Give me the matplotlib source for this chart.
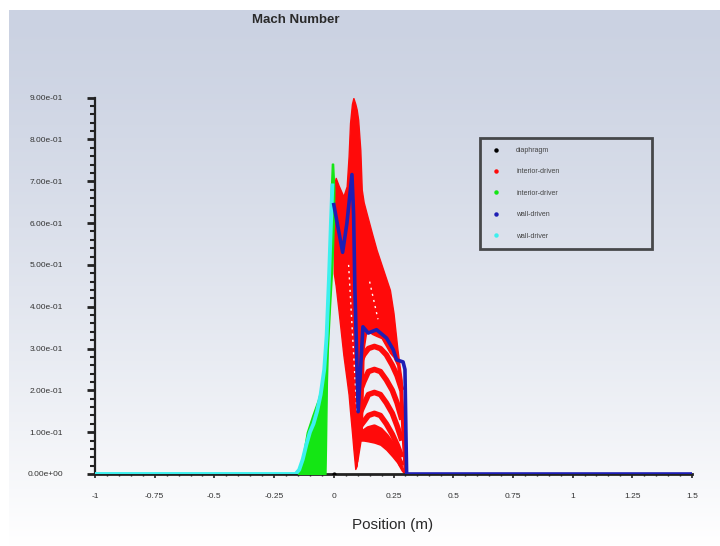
import numpy as np
import matplotlib
matplotlib.use("Agg")
import matplotlib.pyplot as plt
from matplotlib import font_manager
from matplotlib.lines import Line2D

# narrowest font we have, the Fluent plot uses a condensed face
names = {f.name for f in font_manager.fontManager.ttflist}
narrow = "Liberation Sans Narrow" if "Liberation Sans Narrow" in names else "Liberation Sans"
plt.rcParams["font.family"] = [narrow, "DejaVu Sans"]

# ---- data ----
x_ticks = [-1, -0.75, -0.5, -0.25, 0, 0.25, 0.5, 0.75, 1, 1.25, 1.5]
x_tick_labels = ["-1", "-0.75", "-0.5", "-0.25", "0", "0.25", "0.5", "0.75", "1", "1.25", "1.5"]
y_ticks = [0.0, 0.1, 0.2, 0.3, 0.4, 0.5, 0.6, 0.7, 0.8, 0.9]
y_tick_labels = ["0.00e+00", "1.00e-01", "2.00e-01", "3.00e-01", "4.00e-01",
                 "5.00e-01", "6.00e-01", "7.00e-01", "8.00e-01", "9.00e-01"]

series_names = ["diaphragm", "interior-driven", "interior-driver", "wall-driven", "wall-driver"]

# diaphragm
diaphragm_x = [0.0]
diaphragm_y = [0.0]

# wall-driver (cyan)
cyan_x = [-1.0, -0.16, -0.145, -0.13, -0.115, -0.10, -0.085, -0.07, -0.055, -0.04, -0.03, -0.02, -0.012, -0.006]
cyan_y = [0.0, 0.0, 0.01, 0.035, 0.07, 0.10, 0.12, 0.15, 0.19, 0.25, 0.33, 0.47, 0.60, 0.69]

# interior-driver (green band), left / right edge at each height
green_y = [0.0, 0.03, 0.06, 0.10, 0.14, 0.18, 0.22, 0.30, 0.40, 0.50, 0.60, 0.68, 0.742]
green_left = [-0.15, -0.135, -0.125, -0.113, -0.09, -0.065, -0.048, -0.036, -0.029, -0.022, -0.016, -0.012, -0.008]
green_right = [-0.035, -0.034, -0.033, -0.032, -0.031, -0.030, -0.029, -0.025, -0.016, -0.006, 0.0, 0.002, -0.003]

# interior-driven (red) main mass
red_x = [0.0, 0.008, 0.02, 0.04, 0.054, 0.062, 0.068, 0.076, 0.082, 0.09, 0.096, 0.102,
         0.111, 0.117, 0.125, 0.137, 0.16, 0.179, 0.2, 0.235, 0.25, 0.266, 0.275, 0.284, 0.292, 0.298, 0.304]
red_hi = [0.69, 0.708, 0.69, 0.664, 0.688, 0.76, 0.839, 0.885, 0.899, 0.885, 0.871, 0.847,
          0.775, 0.68, 0.65, 0.624, 0.575, 0.536, 0.50, 0.44, 0.385, 0.30, 0.26, 0.225, 0.12, 0.05, 0.0]
red_lo = [0.48, 0.45, 0.39, 0.285, 0.225, 0.19, 0.15, 0.10, 0.06, 0.012, 0.02, 0.09,
          0.10, 0.10, 0.30, 0.345, 0.335, 0.33, 0.325, 0.29, 0.28, 0.26, 0.20, 0.10, 0.02, 0.0, 0.0]

# red bottom band under the lowest hump
bot_x = [0.098, 0.112, 0.125, 0.145, 0.17, 0.195, 0.22, 0.245, 0.265, 0.285, 0.298]
bot_lo = [0.03, 0.08, 0.08, 0.078, 0.075, 0.07, 0.058, 0.042, 0.028, 0.008, 0.0]
bot_hi = [0.10, 0.10, 0.10, 0.108, 0.112, 0.105, 0.09, 0.07, 0.045, 0.02, 0.0]

# red hump profiles inside the shock region
hump_x = [0.105, 0.125, 0.145, 0.17, 0.195, 0.22, 0.245, 0.265, 0.285]
hump_a = [0.26, 0.285, 0.30, 0.305, 0.30, 0.285, 0.26, 0.235, 0.20]
hump_b = [0.19, 0.22, 0.245, 0.25, 0.245, 0.225, 0.20, 0.17, 0.13]
hump_c = [0.14, 0.165, 0.19, 0.195, 0.19, 0.17, 0.145, 0.115, 0.08]
hump_d = [0.11, 0.125, 0.14, 0.145, 0.14, 0.12, 0.095, 0.07, 0.04]
hump_e = [0.10, 0.10, 0.108, 0.112, 0.105, 0.09, 0.07, 0.045, 0.02]

# light gaps in the red mass
gap1_x = [0.062, 0.097]
gap1_y = [0.50, 0.145]
gap2_x = [0.15, 0.185]
gap2_y = [0.46, 0.37]

# wall-driven (blue)
blue_x = [0.0, 0.037, 0.055, 0.076, 0.083, 0.088, 0.096, 0.102, 0.122, 0.144, 0.179,
          0.221, 0.249, 0.263, 0.29, 0.298, 0.302, 0.305, 1.5]
blue_y = [0.644, 0.53, 0.60, 0.716, 0.62, 0.45, 0.28, 0.149, 0.352, 0.337, 0.345,
          0.325, 0.297, 0.273, 0.268, 0.25, 0.10, 0.0, 0.0]

c_red = "#ff0a0a"
c_green = "#14e614"
c_cyan = "#3cf0ee"
c_blue = "#1e1eb4"
c_dark = "#222222"

W, H = 720, 546
fig = plt.figure(figsize=(W / 100, H / 100), dpi=100)
fig.patch.set_facecolor("white")

# gradient background panel
bg = fig.add_axes([9 / W, 0, 1 - 9 / W, 1 - 10 / H])
top = np.array([203, 210, 226]) / 255.0
t = np.linspace(0, 1, 256)[:, None] ** 1.3
grad = top[None, :] * (1 - t) + np.array([1.0, 1.0, 1.0])[None, :] * t
bg.imshow(grad[:, None, :], aspect="auto", extent=[0, 1, 0, 1])
bg.axis("off")

ax = fig.add_axes([95 / W, 1 - 474 / H, (692 - 95) / W, (474 - 97.6) / H])
ax.set_facecolor("none")
ax.set_xlim(-1, 1.5)
ax.set_ylim(0, 0.9)

# red mass
ax.fill_between(red_x, red_lo, red_hi, color=c_red, lw=1.0, zorder=2)
ax.fill_between(bot_x, bot_lo, bot_hi, color=c_red, lw=1.0, zorder=2)
for hy in [hump_a, hump_b, hump_c, hump_d, hump_e]:
    ax.plot(hump_x, hy, color=c_red, lw=4.0, solid_capstyle="butt", zorder=2)
ax.plot(gap1_x, gap1_y, color="white", lw=1.0, ls=(0, (1.5, 3)), zorder=2.5)
ax.plot(gap2_x, gap2_y, color="white", lw=1.0, ls=(0, (1.5, 3)), zorder=2.5)

# green band
ax.fill_betweenx(green_y, green_left, green_right, color=c_green, lw=1.0, zorder=3)

# lines
ax.plot(cyan_x, cyan_y, color=c_cyan, lw=2.8, zorder=4)
ax.plot(blue_x, blue_y, color=c_blue, lw=2.6, zorder=4)
ax.plot(diaphragm_x, diaphragm_y, "o", color="black", ms=2, zorder=5)

# axes styling
for s in ["top", "right"]:
    ax.spines[s].set_visible(False)
ax.spines["left"].set_color(c_dark)
ax.spines["left"].set_linewidth(1.6)
ax.spines["bottom"].set_color(c_dark)
ax.spines["bottom"].set_linewidth(2.0)

ax.set_yticks(y_ticks)
ax.set_yticklabels(y_tick_labels)
ax.set_yticks(np.arange(0, 0.9, 0.02), minor=True)
ax.set_xticks(x_ticks)
ax.set_xticklabels(x_tick_labels)
ax.set_xticks(np.arange(-1, 1.5, 0.05), minor=True)

ax.tick_params(axis="y", which="major", direction="out", length=6, width=2.0,
               color=c_dark, labelsize=6, labelcolor="#333333", pad=17)
ax.tick_params(axis="y", which="minor", direction="out", length=3.5, width=1.5, color=c_dark)
ax.tick_params(axis="x", which="major", direction="out", length=3, width=1.2,
               color=c_dark, labelsize=6, labelcolor="#333333", pad=11)
ax.tick_params(axis="x", which="minor", direction="out", length=1.5, width=1.0, color=c_dark)

fig.text(296 / W, 1 - 20 / H, "Mach Number", ha="center", va="center",
         fontsize=9.5, fontweight="bold", color="#2a2a2a")
fig.text(393 / W, 1 - 525 / H, "Position (m)", ha="center", va="center",
         fontsize=11, color="#2a2a2a")

# legend
handles = [Line2D([], [], ls="none", marker="o", ms=2.2, color=c)
           for c in ["black", c_red, c_green, c_blue, c_cyan]]
leg = ax.legend(handles, series_names, loc="upper left",
                bbox_to_anchor=(480 / W, 1 - 250 / H, 172 / W, 112 / H),
                bbox_transform=fig.transFigure, mode="expand", borderaxespad=0,
                fontsize=5, labelspacing=2.08, borderpad=1.3, handlelength=2.0,
                handletextpad=1.9, fancybox=False, frameon=True)
leg.get_frame().set_edgecolor(c_dark)
leg.get_frame().set_linewidth(2.0)
leg.get_frame().set_facecolor("none")
for txt in leg.get_texts():
    txt.set_color("#444444")

fig.savefig("out.png", dpi=100)
